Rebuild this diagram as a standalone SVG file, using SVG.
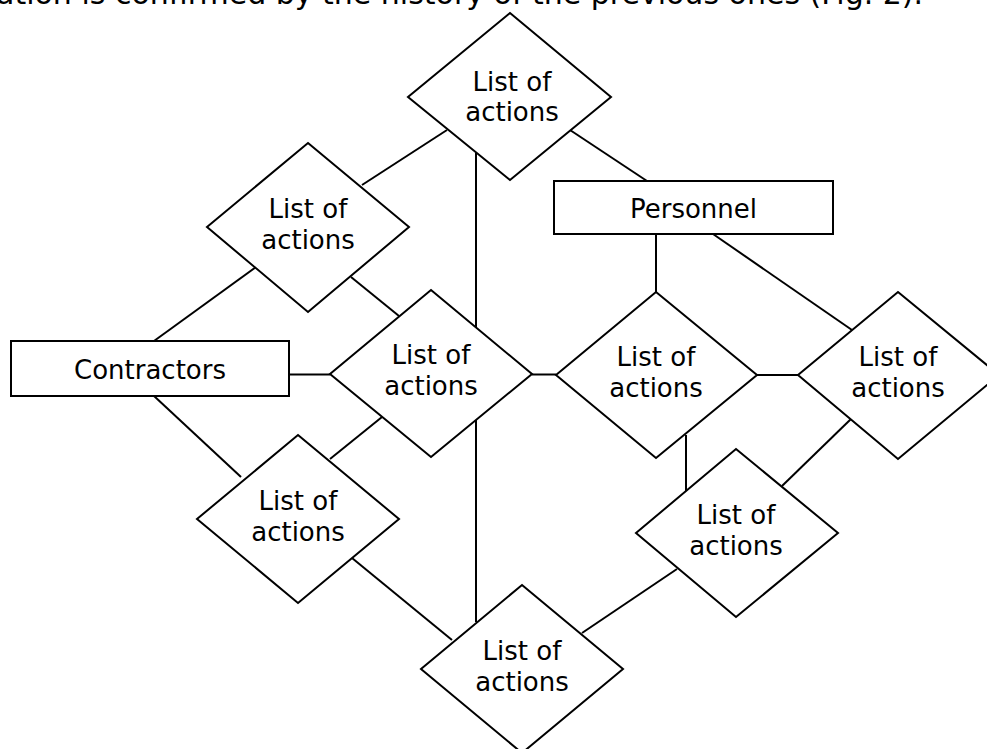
<svg xmlns="http://www.w3.org/2000/svg" width="987" height="749" viewBox="0 0 987 749">
<style>
.d{fill:#fff;stroke:#000;stroke-width:2}
.b{fill:#fff;stroke:#000;stroke-width:2}
.c line{stroke:#000;stroke-width:2}
text{font-family:"DejaVu Sans","Verdana",sans-serif;font-size:26px;fill:#000;text-anchor:middle}
.cap{font-size:30px;text-anchor:start}
</style>
<rect width="987" height="749" fill="#fff"/>
<text class="cap" x="-4" y="4">ation is confirmed by the history of the previous ones (Fig. 2).</text>
<g id="connectors" class="c">
<line x1="447" y1="130" x2="362" y2="185"/>
<line x1="476" y1="153" x2="476" y2="331"/>
<line x1="570" y1="130" x2="647" y2="181"/>
<line x1="256" y1="267" x2="154" y2="341"/>
<line x1="351" y1="277" x2="399" y2="316"/>
<line x1="289" y1="374.5" x2="330" y2="374.5"/>
<line x1="154" y1="396" x2="241" y2="477"/>
<line x1="382" y1="417" x2="330" y2="459"/>
<line x1="476" y1="418" x2="476" y2="622"/>
<line x1="532" y1="374.5" x2="556" y2="374.5"/>
<line x1="656" y1="234" x2="656" y2="292"/>
<line x1="713" y1="234" x2="852" y2="330"/>
<line x1="757" y1="375" x2="798" y2="375"/>
<line x1="852" y1="418" x2="782" y2="486"/>
<line x1="686" y1="435" x2="686" y2="491"/>
<line x1="352" y1="558" x2="452" y2="640"/>
<line x1="677" y1="569" x2="582" y2="633"/>
</g>
<g id="n-top"><polygon class="d" points="510,13 611,97 510,180 408,97"/><text x="512" y="91">List of</text><text x="512" y="121">actions</text></g>
<g id="n-upleft"><polygon class="d" points="308,143 409,227 308,312 207,227"/><text x="308" y="218">List of</text><text x="308" y="249">actions</text></g>
<g id="n-center"><polygon class="d" points="431,290 532,374 431,457 330,374"/><text x="431" y="364">List of</text><text x="431" y="395">actions</text></g>
<g id="n-midright"><polygon class="d" points="656,292 757,375 656,458 556,375"/><text x="656" y="366">List of</text><text x="656" y="397">actions</text></g>
<g id="n-farright"><polygon class="d" points="898,292 999,375 898,459 798,375"/><text x="898" y="366">List of</text><text x="898" y="397">actions</text></g>
<g id="n-lowleft"><polygon class="d" points="298,435 399,519 298,603 197,519"/><text x="298" y="510">List of</text><text x="298" y="541">actions</text></g>
<g id="n-lowright"><polygon class="d" points="736,449 838,533 736,617 636,533"/><text x="736" y="524">List of</text><text x="736" y="555">actions</text></g>
<g id="n-bottom"><polygon class="d" points="522,585 623,669 522,753 421,669"/><text x="522" y="660">List of</text><text x="522" y="691">actions</text></g>
<g id="n-contractors"><rect class="b" x="11" y="341" width="278" height="55"/><text x="150" y="379">Contractors</text></g>
<g id="n-personnel"><rect class="b" x="554" y="181" width="279" height="53"/><text x="693.5" y="218">Personnel</text></g>
</svg>
